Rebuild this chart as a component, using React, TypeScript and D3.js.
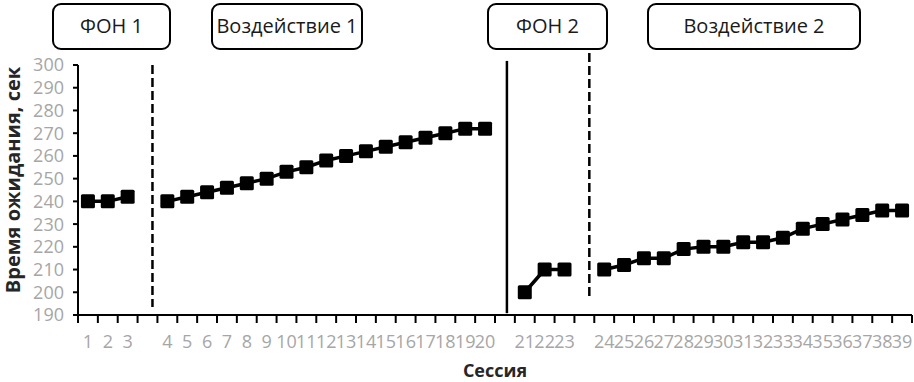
import React from "react";
import * as d3 from "d3";

// ---- data ----
const phaseNames = ["ФОН 1", "Воздействие 1", "ФОН 2", "Воздействие 2"];
const sessions1 = ["1", "2", "3"];
const values1 = [240, 240, 242];
const sessions2 = ["4", "5", "6", "7", "8", "9", "10", "11", "12", "13", "14", "15", "16", "17", "18", "19", "20"];
const values2 = [240, 242, 244, 246, 248, 250, 253, 255, 258, 260, 262, 264, 266, 268, 270, 272, 272];
const sessions3 = ["21", "22", "23"];
const values3 = [200, 210, 210];
const sessions4 = ["24", "25", "26", "27", "28", "29", "30", "31", "32", "33", "34", "35", "36", "37", "38", "39"];
const values4 = [210, 212, 215, 215, 219, 220, 220, 222, 222, 224, 228, 230, 232, 234, 236, 236];
const yTicks = [190, 200, 210, 220, 230, 240, 250, 260, 270, 280, 290, 300];
const yTitle = "Время ожидания, сек";
const xTitle = "Сессия";

// ---- layout ----
const W = 914;
const H = 382;
const X0 = 78;
const X1 = 912;
const Y_TOP = 65;
const Y_BOT = 315;
const FONT = "'Open Sans', 'Noto Sans', sans-serif";

const phases = [
  { sessions: sessions1, values: values1 },
  { sessions: sessions2, values: values2 },
  { sessions: sessions3, values: values3 },
  { sessions: sessions4, values: values4 },
];

// slot domain: phases separated by an empty gap slot
const slots: string[] = [];
phases.forEach((p, i) => {
  if (i > 0) slots.push(`gap${i}`);
  p.sessions.forEach((s) => slots.push(s));
});

const x = d3.scaleBand<string>().domain(slots).range([X0, X1]).padding(0);
const y = d3.scaleLinear().domain([190, 300]).range([Y_BOT, Y_TOP]);
const bw = x.bandwidth();
const cx = (s: string) => (x(s) as number) + bw / 2;

const boxes = [
  { x: 53, w: 117 },
  { x: 212, w: 150 },
  { x: 488, w: 119 },
  { x: 648, w: 212 },
];

const separators = [
  { gap: "gap1", frac: 0.75, y0: 300, y1: 193.5, dashed: true },
  { gap: "gap2", frac: 0.6, y0: 301.8, y1: 190.8, dashed: false },
  { gap: "gap3", frac: 0.75, y0: 305.3, y1: 196.6, dashed: true },
];

export default function App() {
  const line = d3
    .line<[string, number]>()
    .x((d) => cx(d[0]))
    .y((d) => y(d[1]));
  const M = 14;
  return (
    <svg
      width={W}
      height={H}
      style={{ position: "absolute", left: 0, top: 0, background: "#fff" }}
      fontFamily={FONT}
    >
      {/* phase boxes */}
      {phaseNames.map((name, i) => (
        <g key={name}>
          <rect x={boxes[i].x} y={4} width={boxes[i].w} height={45} rx={8} fill="#fff" stroke="#000" strokeWidth={2} />
          <text x={boxes[i].x + boxes[i].w / 2} y={33} textAnchor="middle" fontSize={20} fill="#1a1a1a">
            {name}
          </text>
        </g>
      ))}

      {/* y axis */}
      <line x1={X0} x2={X0} y1={y(300)} y2={y(190)} stroke="#000" strokeWidth={2} />
      {yTicks.map((t) => (
        <g key={t}>
          <line x1={X0 - 5} x2={X0} y1={y(t)} y2={y(t)} stroke="#000" strokeWidth={2} />
          <text x={64} y={y(t)} dy="0.36em" textAnchor="end" fontSize={18} fill="#a6a6a6">
            {t}
          </text>
        </g>
      ))}
      <text
        transform={`translate(20, ${(Y_TOP + Y_BOT) / 2 - 10}) rotate(-90)`}
        textAnchor="middle"
        fontSize={20}
        fontWeight={700}
        fill="#262626"
      >
        {yTitle}
      </text>

      {/* x axis */}
      <line x1={X0} x2={X1} y1={Y_BOT} y2={Y_BOT} stroke="#000" strokeWidth={2} />
      {slots.map((s) => (
        <line key={"t" + s} x1={x(s)} x2={x(s)} y1={Y_BOT} y2={Y_BOT + 8} stroke="#000" strokeWidth={2} />
      ))}
      <line x1={X1} x2={X1} y1={Y_BOT} y2={Y_BOT + 8} stroke="#000" strokeWidth={2} />
      {phases.map((p) =>
        p.sessions.map((s) => (
          <text key={"l" + s} x={cx(s)} y={348} textAnchor="middle" fontSize={18} fill="#a6a6a6">
            {s}
          </text>
        ))
      )}
      <text x={(X0 + X1) / 2} y={377} textAnchor="middle" fontSize={18} fontWeight={700} fill="#262626">
        {xTitle}
      </text>

      {/* separators */}
      {separators.map((s) => {
        const sx = (x(s.gap) as number) + bw * s.frac;
        return (
          <line
            key={s.gap}
            x1={sx}
            x2={sx}
            y1={y(s.y0)}
            y2={y(s.y1)}
            stroke="#000"
            strokeWidth={2.5}
            strokeDasharray={s.dashed ? "9 4" : undefined}
          />
        );
      })}

      {/* series */}
      {phases.map((p, i) => {
        const pts: [string, number][] = p.sessions.map((s, j) => [s, p.values[j]]);
        return (
          <g key={"p" + i}>
            <path d={line(pts) as string} fill="none" stroke="#000" strokeWidth={3.5} />
            {pts.map((d) => (
              <rect key={d[0]} x={cx(d[0]) - M / 2} y={y(d[1]) - M / 2} width={M} height={M} rx={1.5} fill="#000" />
            ))}
          </g>
        );
      })}
    </svg>
  );
}
